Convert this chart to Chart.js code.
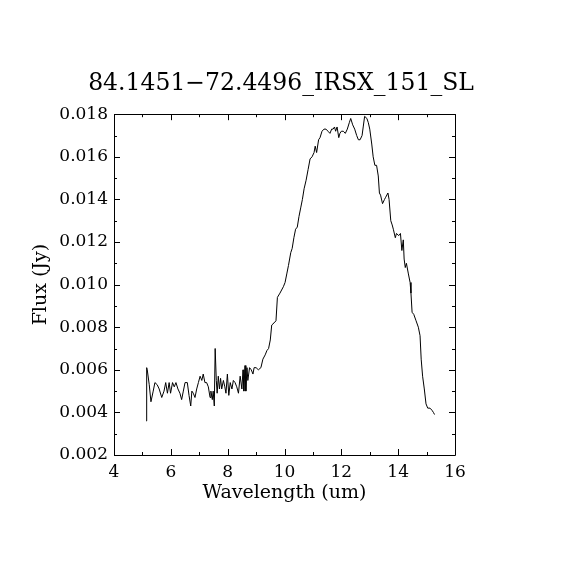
<!DOCTYPE html>
<html>
<head>
<meta charset="utf-8">
<script src="https://cdn.jsdelivr.net/npm/chart.js@4.4.1/dist/chart.umd.min.js"></script>
<style>
  body { margin: 0; background: #fff; }
  canvas { display: block; }
</style>
</head>
<body>
<canvas id="spectrum" width="570" height="570"></canvas>
<script>
const titleText = '84.1451\u221272.4496_IRSX_151_SL';
const xTitle = 'Wavelength (um)';
const yTitle = 'Flux (Jy)';

const xTickValues = [4, 6, 8, 10, 12, 14, 16];
const xMinorValues = [5, 7, 9, 11, 13, 15];
const yTickValues = [0.002, 0.004, 0.006, 0.008, 0.010, 0.012, 0.014, 0.016, 0.018];
const yMinorValues = [0.003, 0.005, 0.007, 0.009, 0.011, 0.013, 0.015, 0.017];

const wavelength = [
  5.13, 5.15, 5.17, 5.24, 5.30, 5.38, 5.44, 5.52, 5.59, 5.68, 5.76, 5.82, 5.88, 5.94, 5.99,
  6.06, 6.12, 6.18, 6.25, 6.32, 6.38, 6.44, 6.50, 6.58, 6.64, 6.70, 6.74, 6.79, 6.85, 6.91, 6.97,
  7.03, 7.09, 7.14, 7.20, 7.26, 7.32, 7.38, 7.41, 7.46, 7.49, 7.53, 7.56, 7.60, 7.63, 7.67, 7.71, 7.75, 7.79, 7.85, 7.90, 7.94, 7.99,
  8.04, 8.09, 8.15, 8.20, 8.26, 8.32, 8.38, 8.44, 8.50, 8.54, 8.57, 8.61, 8.64, 8.68, 8.71, 8.77, 8.83, 8.89, 8.93,
  9.00, 9.08, 9.17, 9.24, 9.32, 9.38, 9.44, 9.50, 9.55, 9.63, 9.70, 9.75, 9.84, 9.96,
  10.02, 10.08, 10.14, 10.22, 10.27, 10.33, 10.39, 10.45, 10.51, 10.57, 10.63, 10.69, 10.76, 10.83, 10.90, 10.97,
  11.04, 11.08, 11.13, 11.20, 11.25, 11.32, 11.39, 11.46, 11.53, 11.60, 11.66, 11.71, 11.76, 11.80, 11.85, 11.91, 11.95,
  12.00, 12.07, 12.14, 12.21, 12.28, 12.33, 12.40, 12.47, 12.54, 12.60, 12.66, 12.73, 12.77, 12.82, 12.90, 12.95,
  13.00, 13.07, 13.12, 13.18, 13.24, 13.30, 13.34, 13.38, 13.45, 13.52, 13.56, 13.64, 13.68, 13.74, 13.79, 13.83, 13.90, 13.94,
  14.02, 14.08, 14.13, 14.18, 14.21, 14.25, 14.29, 14.36, 14.42, 14.45, 14.49, 14.55, 14.63, 14.71, 14.77, 14.81, 14.86, 14.92, 14.98,
  15.04, 15.12, 15.19, 15.24, 15.28
];

const flux = [
  0.0036, 0.0061, 0.0060, 0.0053, 0.0045, 0.0050, 0.0054, 0.0053, 0.0051, 0.0047, 0.0050, 0.0054, 0.0049, 0.0054, 0.0049,
  0.0054, 0.0052, 0.0054, 0.0051, 0.0049, 0.0046, 0.0050, 0.0054, 0.0054, 0.0048, 0.0043, 0.0050, 0.0049, 0.0047, 0.0051, 0.0054,
  0.0057, 0.0055, 0.0058, 0.0054, 0.0054, 0.0052, 0.0047, 0.0050, 0.0046, 0.0050, 0.0043, 0.0070, 0.0055, 0.0049, 0.0057, 0.0051, 0.0056, 0.0051, 0.0055, 0.0052, 0.0049, 0.0058,
  0.0048, 0.0054, 0.0051, 0.0055, 0.0054, 0.0052, 0.0049, 0.0057, 0.0051, 0.0060, 0.0050, 0.0062, 0.0050, 0.0061, 0.0055, 0.0061, 0.0060, 0.0058, 0.0061,
  0.0061, 0.0060, 0.0061, 0.0065, 0.0067, 0.0069, 0.0070, 0.0074, 0.0081, 0.0082, 0.0083, 0.0094, 0.0096, 0.0099,
  0.0101, 0.0105, 0.0109, 0.0115, 0.0117, 0.0122, 0.0126, 0.0127, 0.0132, 0.0136, 0.0140, 0.0145, 0.0149, 0.0154, 0.0159, 0.0160,
  0.0162, 0.0165, 0.0162, 0.0168, 0.0169, 0.0172, 0.0173, 0.0173, 0.0172, 0.0171, 0.0173, 0.0173, 0.0174, 0.0172, 0.0174, 0.0169, 0.0171,
  0.0172, 0.0172, 0.0171, 0.0173, 0.0176, 0.0178, 0.0175, 0.0173, 0.0170, 0.0168, 0.0168, 0.0170, 0.0174, 0.0179, 0.0178, 0.0176,
  0.0173, 0.0166, 0.0160, 0.0156, 0.0156, 0.0151, 0.0143, 0.0142, 0.0138, 0.0140, 0.0141, 0.0143, 0.0140, 0.0130, 0.0128, 0.0126, 0.0122, 0.0124,
  0.0123, 0.0124, 0.0116, 0.0121, 0.0112, 0.0108, 0.0110, 0.0105, 0.0101, 0.0096, 0.0087, 0.0086, 0.0083, 0.0080, 0.0076, 0.0065, 0.0057, 0.0051, 0.0044,
  0.0042, 0.0042, 0.0041, 0.0040, 0.0039
];

const serif = '"DejaVu Serif", "Liberation Serif", serif';

// frame plus inward ticks on all four sides, idl style
const frameTicks = {
  id: 'frameTicks',
  afterDraw(chart) {
    const { ctx, chartArea: a, scales: { x, y } } = chart;
    ctx.save();
    ctx.strokeStyle = '#000';
    ctx.lineWidth = 1;
    ctx.beginPath();
    ctx.rect(Math.round(a.left) + 0.5, Math.round(a.top) + 0.5,
      Math.round(a.right - a.left), Math.round(a.bottom - a.top));
    const tick = (vals, len) => {
      vals.forEach(v => {
        const px = Math.round(x.getPixelForValue(v)) + 0.5;
        ctx.moveTo(px, a.bottom); ctx.lineTo(px, a.bottom - len);
        ctx.moveTo(px, a.top); ctx.lineTo(px, a.top + len);
      });
    };
    const ytick = (vals, len) => {
      vals.forEach(v => {
        const py = Math.round(y.getPixelForValue(v)) + 0.5;
        ctx.moveTo(a.left, py); ctx.lineTo(a.left + len, py);
        ctx.moveTo(a.right, py); ctx.lineTo(a.right - len, py);
      });
    };
    tick(xTickValues, 6);
    tick(xMinorValues, 3);
    ytick(yTickValues, 6);
    ytick(yMinorValues, 3);
    ctx.stroke();
    ctx.restore();
  }
};

new Chart(document.getElementById('spectrum'), {
  type: 'line',
  data: {
    datasets: [{
      data: wavelength.map((w, i) => ({ x: w, y: flux[i] })),
      borderColor: '#000',
      borderWidth: 1,
      pointRadius: 0,
      tension: 0,
      fill: false
    }]
  },
  options: {
    responsive: false,
    animation: false,
    devicePixelRatio: 1,
    layout: { padding: { left: 0, right: 8, top: 70, bottom: 66 } },
    plugins: {
      legend: { display: false },
      tooltip: { enabled: false },
      title: {
        display: true,
        text: titleText,
        color: '#000',
        font: { family: serif, size: 23.5, weight: 'normal' },
        padding: { top: 0, bottom: 16 }
      }
    },
    scales: {
      x: {
        type: 'linear',
        min: 4,
        max: 16,
        afterBuildTicks: s => { s.ticks = xTickValues.map(v => ({ value: v })); },
        afterFit: s => { s.height = 49; },
        grid: { display: false, drawTicks: false },
        border: { display: false },
        ticks: {
          color: '#000',
          padding: 7,
          maxRotation: 0,
          font: { family: serif, size: 17 },
          callback: v => String(v)
        },
        title: {
          display: true,
          text: xTitle,
          color: '#000',
          padding: 0,
          font: { family: serif, size: 19 }
        }
      },
      y: {
        type: 'linear',
        min: 0.002,
        max: 0.018,
        afterBuildTicks: s => { s.ticks = yTickValues.map(v => ({ value: v })); },
        afterFit: s => { s.width = 114; },
        grid: { display: false, drawTicks: false },
        border: { display: false },
        ticks: {
          color: '#000',
          padding: 6,
          font: { family: serif, size: 17 },
          callback: v => Number(v).toFixed(3)
        },
        title: {
          display: true,
          text: yTitle,
          color: '#000',
          padding: { top: 30, bottom: 0 },
          font: { family: serif, size: 19 }
        }
      },
      // empty right-hand margin so the title centres over the plot
      yRight: {
        type: 'linear',
        position: 'right',
        min: 0.002,
        max: 0.018,
        afterFit: s => { s.width = 107; },
        grid: { display: false, drawTicks: false },
        border: { display: false },
        ticks: { display: false }
      }
    }
  },
  plugins: [frameTicks]
});
</script>
</body>
</html>
